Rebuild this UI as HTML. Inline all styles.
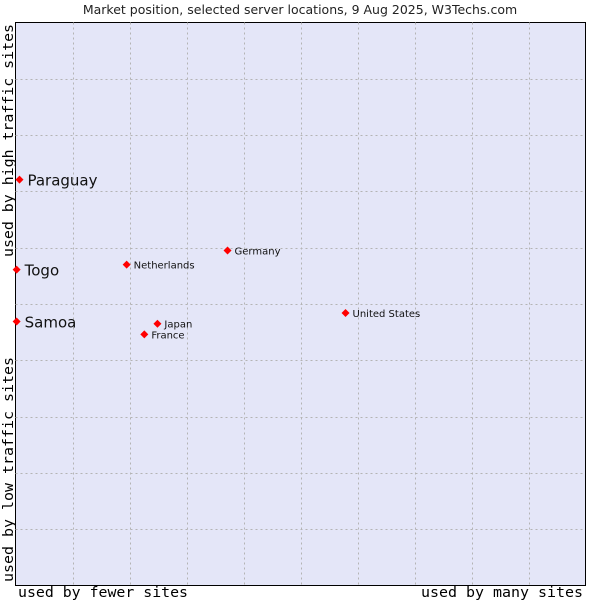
<!DOCTYPE html>
<html><head><meta charset="utf-8"><style>
body{margin:0;background:#fff;width:600px;height:600px;overflow:hidden}
svg{display:block}
</style></head><body>
<svg width="600" height="600" id="chart">
<text x="300" y="14" text-anchor="middle" font-family="DejaVu Sans, sans-serif" font-size="12.5" fill="#222">Market position, selected server locations, 9 Aug 2025, W3Techs.com</text>
<rect x="15.5" y="22.5" width="570" height="563" fill="#e4e6f8" stroke="#000"/>
<g id="grid"></g>
<g id="pts"></g>
<text x="18" y="597" textLength="170" lengthAdjust="spacingAndGlyphs" font-family="DejaVu Sans Mono, monospace" font-size="14" fill="#000">used by fewer sites</text>
<text x="421" y="597" textLength="162" lengthAdjust="spacingAndGlyphs" font-family="DejaVu Sans Mono, monospace" font-size="14" fill="#000">used by many sites</text>
<text transform="translate(13,582) rotate(-90)" textLength="225" lengthAdjust="spacingAndGlyphs" font-family="DejaVu Sans Mono, monospace" font-size="14" fill="#000">used by low traffic sites</text>
<text transform="translate(13,257) rotate(-90)" textLength="233" lengthAdjust="spacingAndGlyphs" font-family="DejaVu Sans Mono, monospace" font-size="14" fill="#000">used by high traffic sites</text>
</svg>
<script>
const names=["Paraguay","Togo","Samoa","Netherlands","Germany","United States","Japan","France"];
const xs=[0.7,0.2,0.2,19.5,37.2,57.9,24.9,22.6];
const ys=[72.1,56.1,46.9,57.0,59.5,48.4,46.5,44.6];
const big=[true,true,true,false,false,false,false,false];
const L=15.5,R=585.5,T=22.5,B=585.5;
const sx=v=>L+v/100*(R-L), sy=v=>B-v/100*(B-T);
const NS="http://www.w3.org/2000/svg";
const grid=document.getElementById('grid');
for(let i=1;i<10;i++){
 const a=document.createElementNS(NS,'line');
 
 
 const x=Math.round(sx(i*10))+0.5;
 a.setAttribute('x1',x);a.setAttribute('x2',x);a.setAttribute('y1',T);a.setAttribute('y2',B);
 a.setAttribute('stroke','#b4b4b4');a.setAttribute('stroke-dasharray','2,3');grid.appendChild(a);
 const b=document.createElementNS(NS,'line');
 
 
 const y=Math.round(sy(i*10))+0.5;
 b.setAttribute('x1',L);b.setAttribute('x2',R);b.setAttribute('y1',y);b.setAttribute('y2',y);
 b.setAttribute('stroke','#b4b4b4');b.setAttribute('stroke-dasharray','2,3');grid.appendChild(b);
}
const pts=document.getElementById('pts');
names.forEach((n,i)=>{
 const x=sx(xs[i]),y=sy(ys[i]);
 const c=document.createElementNS(NS,'path');
 
 
 c.setAttribute('d',`M${x} ${y-4}L${x+4} ${y}L${x} ${y+4}L${x-4} ${y}Z`);
 c.setAttribute('fill','#f00');pts.appendChild(c);
 const t=document.createElementNS(NS,'text');
 
 
 t.setAttribute('x',x+(big[i]?8:7));t.setAttribute('y',y+(big[i]?6:4));
 t.setAttribute('font-family','DejaVu Sans, sans-serif');
 t.setAttribute('font-size',big[i]?15:10);t.setAttribute('fill','#111');
 t.textContent=n;pts.appendChild(t);
});
</script>
</body></html>
